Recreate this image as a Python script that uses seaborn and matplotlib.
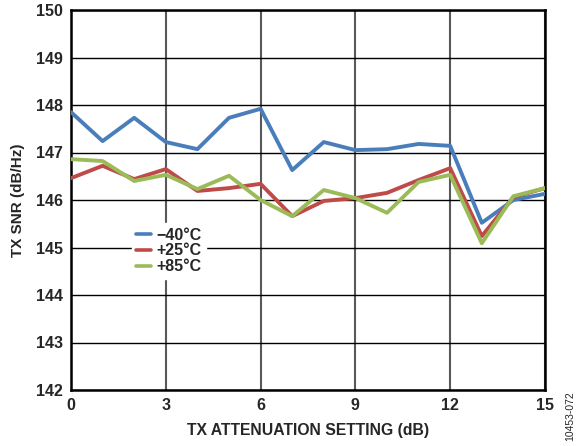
import matplotlib
matplotlib.use("Agg")
import matplotlib.pyplot as plt
import seaborn as sns
import pandas as pd

x_vals = list(range(16))
snr_m40 = [147.85, 147.24, 147.73, 147.22, 147.07, 147.73, 147.92, 146.63,
           147.22, 147.05, 147.07, 147.18, 147.14, 145.52, 146.00, 146.13]
snr_p25 = [146.46, 146.72, 146.44, 146.65, 146.19, 146.25, 146.34, 145.66,
           145.98, 146.04, 146.15, 146.42, 146.67, 145.24, 146.06, 146.25]
snr_p85 = [146.86, 146.82, 146.40, 146.53, 146.23, 146.51, 146.00, 145.66,
           146.21, 146.04, 145.73, 146.38, 146.53, 145.09, 146.08, 146.25]
labels = ["\u221240\u00b0C", "+25\u00b0C", "+85\u00b0C"]
colors = ["#4A7EBB", "#BE4B48", "#9BBB59"]
x_ticks = [0, 3, 6, 9, 12, 15]
y_ticks = [142, 143, 144, 145, 146, 147, 148, 149, 150]

df = pd.concat([
    pd.DataFrame({"x": x_vals, "snr": v, "temp": lab})
    for v, lab in zip([snr_m40, snr_p25, snr_p85], labels)
])

sns.set_style("white")
plt.rcParams["font.family"] = ["Liberation Sans", "DejaVu Sans"]
plt.rcParams["font.weight"] = "bold"

fig = plt.figure(figsize=(5.76, 4.46), dpi=100)
ax = fig.add_axes([71/576, 56/446, 474/576, 380/446])

sns.lineplot(data=df, x="x", y="snr", hue="temp", palette=colors,
             linewidth=2.8, ax=ax, legend=True, zorder=3)

ax.set_xlim(0, 15)
ax.set_ylim(142, 150)
ax.set_xticks(x_ticks)
ax.set_yticks(y_ticks)
ax.grid(True, axis="y", color="#000000", linewidth=1.0, zorder=1)
ax.grid(True, axis="x", color="#595959", linewidth=1.5, zorder=1)
for s in ax.spines.values():
    s.set_color("black")
    s.set_linewidth(1.8)
ax.tick_params(axis="both", labelsize=11.5, length=0, pad=6)
for t in ax.get_xticklabels() + ax.get_yticklabels():
    t.set_fontweight("bold")
ax.set_xlabel("TX ATTENUATION SETTING (dB)", fontsize=11.3, fontweight="bold", labelpad=7)
ax.set_ylabel("TX SNR (dB/Hz)", fontsize=11, fontweight="bold", labelpad=8)

leg = ax.legend(loc="upper left", bbox_to_anchor=(0.128, 0.44), frameon=True,
                fontsize=11.5, handlelength=0.9, handletextpad=0.35,
                labelspacing=0.05, borderpad=0.3, borderaxespad=0)
leg.get_frame().set_edgecolor("white")
leg.get_frame().set_facecolor("white")
leg.get_frame().set_alpha(1.0)
for t in leg.get_texts():
    t.set_fontweight("bold")
for l in leg.get_lines():
    l.set_linewidth(2.6)

fig.text(0.99, 0.067, "10453-072", rotation=90, fontsize=7.5,
         fontweight="normal", ha="center", va="center")

fig.savefig("out.png", dpi=100)
